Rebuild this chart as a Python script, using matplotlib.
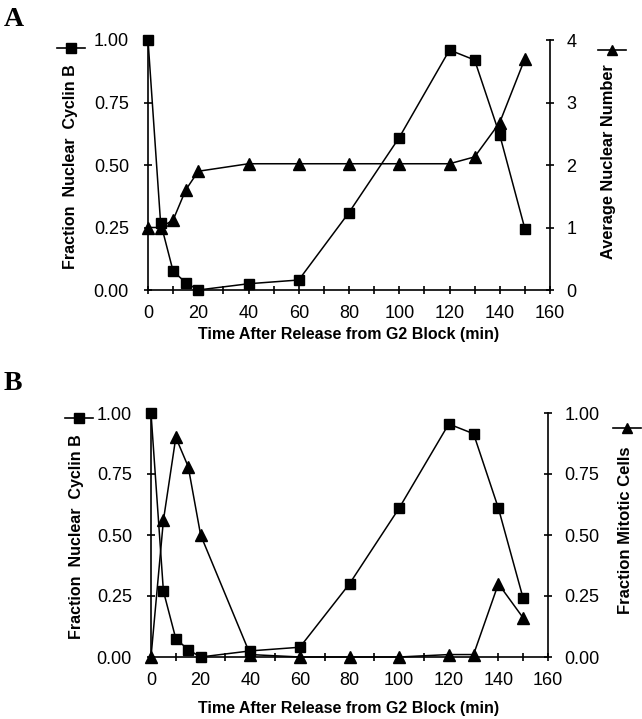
import numpy as np
import matplotlib.pyplot as plt
from matplotlib.lines import Line2D

# Time points (min after release from G2 block)
times = [0, 5, 10, 15, 20, 40, 60, 80, 100, 120, 130, 140, 150]

# Panel A
cyclin_a = [1.00, 0.27, 0.075, 0.03, 0.0, 0.025, 0.04, 0.31, 0.61, 0.96, 0.92, 0.62, 0.245]
nuclei_a = [1.0, 1.0, 1.12, 1.6, 1.9, 2.02, 2.02, 2.02, 2.02, 2.02, 2.13, 2.68, 3.7]

# Panel B
cyclin_b = [1.00, 0.27, 0.075, 0.03, 0.0, 0.025, 0.04, 0.30, 0.61, 0.955, 0.915, 0.61, 0.24]
mitotic_b = [0.0, 0.56, 0.90, 0.78, 0.50, 0.01, 0.0, 0.0, 0.0, 0.01, 0.01, 0.30, 0.16]

x_major = [0, 20, 40, 60, 80, 100, 120, 140, 160]
left_ticks = [0.0, 0.25, 0.5, 0.75, 1.0]
left_labels = ['0.00', '0.25', '0.50', '0.75', '1.00']

plt.rcParams['font.family'] = ['Liberation Sans', 'DejaVu Sans']

W, H = 642, 719
fig = plt.figure(figsize=(W / 100, H / 100), dpi=100)


def fx(px):
    return px / W


def fy(py):
    return 1 - py / H


def style_axis(ax, right=False):
    ax.tick_params(direction='inout', length=5.5, width=1.2, labelsize=13, color='black')
    ax.spines['top'].set_visible(False)
    if right:
        ax.spines['left'].set_visible(False)
        ax.spines['bottom'].set_visible(False)
        ax.spines['right'].set_linewidth(1.2)
        ax.tick_params(axis='y', pad=9)
    else:
        ax.spines['right'].set_visible(False)
        ax.spines['left'].set_linewidth(1.2)
        ax.spines['bottom'].set_linewidth(1.2)
        ax.tick_params(axis='y', pad=11)
        ax.tick_params(axis='x', pad=8)


def indicator(x0, x1, y, marker):
    xm = (x0 + x1) / 2
    line = Line2D([fx(x0), fx(xm), fx(x1)], [fy(y), fy(y), fy(y)], transform=fig.transFigure,
                  color='black', lw=1.2, marker=marker, markevery=[1], markersize=6.5)
    fig.add_artist(line)


def panel(rect, cyc, other, right_lim, right_ticks, right_labels, right_label, right_fs, letter,
          letter_y, sq_ind, tri_ind, left_lab_xy, right_lab_xy, xlab_y):
    ax = fig.add_axes(rect)
    ax.plot(times, cyc, color='black', lw=1.1, marker='s', markersize=7, clip_on=False, zorder=3)
    ax.set_xlim(0, 160)
    ax.set_ylim(0, 1)
    ax.set_xticks(np.arange(0, 161, 10))
    ax.set_xticklabels([str(t) if t in x_major else '' for t in range(0, 161, 10)])
    ax.set_yticks(left_ticks)
    ax.set_yticklabels(left_labels)
    style_axis(ax)

    ax2 = ax.twinx()
    ax2.plot(times, other, color='black', lw=1.1, marker='^', markersize=8, clip_on=False, zorder=3)
    ax2.set_ylim(0, right_lim)
    ax2.set_yticks(right_ticks)
    ax2.set_yticklabels(right_labels)
    style_axis(ax2, right=True)

    fig.text(fx(4), fy(letter_y), letter, fontsize=20, fontweight='bold', family='Liberation Serif',
             va='center', ha='left')
    fig.text(fx(left_lab_xy[0]), fy(left_lab_xy[1]), 'Fraction  Nuclear  Cyclin B', rotation=90,
             fontsize=11.5, fontweight='bold', ha='center', va='center')
    fig.text(fx(right_lab_xy[0]), fy(right_lab_xy[1]), right_label, rotation=90,
             fontsize=right_fs, fontweight='bold', ha='center', va='center')
    fig.text(fx(349), fy(xlab_y), 'Time After Release from G2 Block (min)',
             fontsize=11.5, fontweight='bold', ha='center', va='center')
    indicator(sq_ind[0], sq_ind[1], sq_ind[2], 's')
    indicator(tri_ind[0], tri_ind[1], tri_ind[2], '^')
    return ax


# Panel A: axes from x 148..550, y 40..290 px
panel([fx(148), fy(290), fx(550) - fx(148), fy(40) - fy(290)], cyclin_a, nuclei_a,
      4, [0, 1, 2, 3, 4], ['0', '1', '2', '3', '4'], 'Average Nuclear Number', 11.8, 'A', 19,
      (57, 85, 48), (598, 626, 50), (70, 167), (608, 162), 335)

# Panel B: axes from x 151..548, y 413..657 px
panel([fx(151), fy(657), fx(548) - fx(151), fy(413) - fy(657)], cyclin_b, mitotic_b,
      1, left_ticks, left_labels, 'Fraction Mitotic Cells', 12, 'B', 384,
      (65, 93, 418), (613, 641, 428), (77, 537), (625, 530), 708)

plt.savefig('out.png', dpi=100)
